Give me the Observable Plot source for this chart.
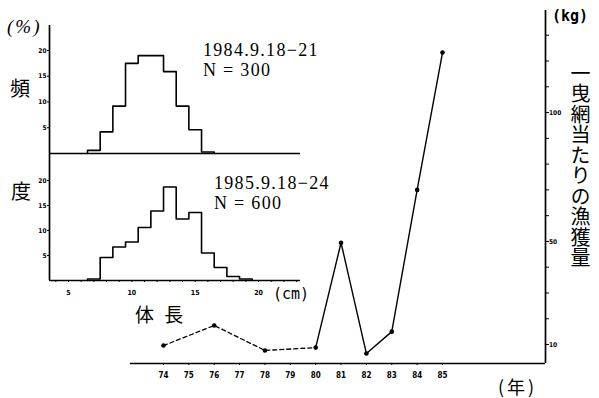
<!DOCTYPE html>
<html><head><meta charset="utf-8">
<script src="https://cdn.jsdelivr.net/npm/d3@7"></script>
<script src="https://cdn.jsdelivr.net/npm/@observablehq/plot@0.6"></script>
<style>
body{margin:0;background:#fff;}
#wrap{position:relative;width:599px;height:398px;overflow:hidden;background:#fff;color:#000;}
#wrap svg{position:absolute;left:0;top:0;}
.lbl{position:absolute;white-space:nowrap;line-height:1;}
.date{font-family:"Liberation Serif",serif;font-size:18px;letter-spacing:1.3px;line-height:20px;}
.jp{font-family:"Noto Sans CJK JP",sans-serif;}
</style></head><body><div id="wrap"></div>
<script>
// ---- main series: catch per haul (kg) by year ----
const years   = [74, 76, 78, 80, 81, 82, 83, 84, 85];
const catchKg = [9.6, 17.4, 7.7, 8.8, 49.5, 6.5, 15.0, 70.0, 123.3];
const yearTicks = [74, 75, 76, 77, 78, 79, 80, 81, 82, 83, 84, 85];
const kgTicks   = [10, 20, 30, 40, 50, 60, 70, 80, 90, 100, 110, 120, 130];
const kgLabels  = [10, 50, 100];

// ---- insets: body-length frequency (%) ----
const bins1984 = [7, 8, 9, 10, 11, 12, 13, 14, 15, 16];
const freq1984 = [0.6, 4.2, 9.2, 17.5, 19.0, 19.0, 15.9, 9.2, 4.6, 0.3];
const bins1985 = [7, 8, 9, 10, 11, 12, 13, 14, 15, 16, 17, 18, 19];
const freq1985 = [0.3, 4.6, 6.7, 7.7, 10.6, 13.9, 18.7, 12.3, 13.6, 5.5, 2.6, 0.8, 0.3];
const pctTicks = [5, 10, 15, 20];
const cmTicks  = [4,5,6,7,8,9,10,11,12,13,14,15,16,17,18,19,20,21,22,23];
const cmLabels = [5, 10, 15, 20];

const wrap = document.getElementById("wrap");
const mainData = years.map((y, i) => ({year: y, kg: catchKg[i]}));
const XD = [72.7, 89.06], YD = [2.64, 139.6];

const mainChart = Plot.plot({
  width: 599, height: 398,
  marginLeft: 130, marginRight: 54, marginTop: 10, marginBottom: 35,
  style: {background: "none", overflow: "visible", fontFamily: "DejaVu Sans Condensed"},
  x: {domain: XD},
  y: {domain: YD},
  marks: [
    Plot.ruleY([YD[0]], {stroke: "#000", strokeWidth: 1.7}),
    Plot.ruleX([XD[1]], {stroke: "#000", strokeWidth: 1.7}),
    Plot.axisX(yearTicks, {tickSize: 2, tickPadding: 7, fontSize: 8, fontWeight: "bold", label: null, tickFormat: d => String(d)}),
    Plot.axisY(kgTicks, {anchor: "right", tickSize: 3, tickPadding: 0.5, fontSize: 6.5, fontWeight: "bold", label: null,
      tickFormat: d => kgLabels.includes(d) ? String(d) : ""}),
    Plot.line(mainData.filter(d => d.year <= 80), {x: "year", y: "kg", stroke: "#000", strokeWidth: 1.3, strokeDasharray: "4,3"}),
    Plot.line(mainData.filter(d => d.year >= 80), {x: "year", y: "kg", stroke: "#000", strokeWidth: 1.4}),
    Plot.dot(mainData, {x: "year", y: "kg", r: 2.3, fill: "#000", stroke: "none"})
  ]
});
wrap.appendChild(mainChart);

function steps(bins, vals) {
  const pts = [{x: bins[0] - 0.5, y: 0}];
  bins.forEach((b, i) => pts.push({x: b - 0.5, y: vals[i]}));
  pts.push({x: bins[bins.length - 1] + 0.5, y: 0});
  return pts;
}
const CD = [3.5, 23.31];

const histTop = Plot.plot({
  width: 310, height: 160,
  marginLeft: 49, marginRight: 10, marginTop: 25, marginBottom: 7,
  style: {background: "none", overflow: "visible", fontFamily: "DejaVu Sans Condensed"},
  x: {domain: CD, axis: null},
  y: {domain: [0, 24.85]},
  marks: [
    Plot.ruleY([0], {stroke: "#000", strokeWidth: 1.6}),
    Plot.ruleX([CD[0]], {stroke: "#000", strokeWidth: 1.7}),
    Plot.axisY(pctTicks, {tickSize: 2, tickPadding: 1, fontSize: 6.5, fontWeight: "bold", label: null}),
    Plot.line(steps(bins1984, freq1984), {x: "x", y: "y", curve: "step-after", stroke: "#000", strokeWidth: 1.6})
  ]
});
wrap.appendChild(histTop);

const histBot = Plot.plot({
  width: 310, height: 300,
  marginLeft: 49, marginRight: 10, marginTop: 153, marginBottom: 20,
  style: {background: "none", overflow: "visible", fontFamily: "DejaVu Sans Condensed"},
  x: {domain: CD},
  y: {domain: [0, 25.4]},
  marks: [
    Plot.ruleY([0], {stroke: "#000", strokeWidth: 1.6}),
    Plot.ruleX([CD[0]], {stroke: "#000", strokeWidth: 1.7}),
    Plot.axisY(pctTicks, {tickSize: 2, tickPadding: 1, fontSize: 6.5, fontWeight: "bold", label: null}),
    Plot.axisX(cmTicks, {tickSize: 2, tickPadding: 8, fontSize: 7, fontWeight: "bold", label: null,
      tickFormat: d => cmLabels.includes(d) ? String(d) : ""}),
    Plot.line(steps(bins1985, freq1985), {x: "x", y: "y", curve: "step-after", stroke: "#000", strokeWidth: 1.6})
  ]
});
wrap.appendChild(histBot);

const labels = [
  {t: "(%)", x: 7, y: 17, cls: "date", css: "font-size:19px;line-height:1;letter-spacing:2px;font-style:italic;"},
  {t: "頻", x: 10, y: 78, cls: "jp", css: "font-size:20px;"},
  {t: "度", x: 11, y: 181, cls: "jp", css: "font-size:20px;"},
  {t: ["1984.9.18−21", "N = 300"], x: 203, y: 40, cls: "date", css: ""},
  {t: ["1985.9.18−24", "N = 600"], x: 214, y: 173, cls: "date", css: ""},
  {t: "(cm)", x: 273, y: 287, cls: "", css: "font-family:'DejaVu Sans Mono';font-size:15px;"},
  {t: "体 長", x: 135, y: 304, cls: "jp", css: "font-size:19px;letter-spacing:3px;"},
  {t: "(kg)", x: 552, y: 9, cls: "", css: "font-family:'DejaVu Sans Mono';font-weight:bold;font-size:15px;"},
  {t: "(年)", x: 498, y: 377, cls: "jp", css: "font-size:18px;letter-spacing:3px;"},
  {t: "一曳網当たりの漁獲量", x: 570, y: 63, cls: "jp", css: "font-size:20px;letter-spacing:0.5px;writing-mode:vertical-rl;"}
];
for (const l of labels) {
  const d = document.createElement("div");
  d.className = "lbl " + l.cls;
  d.style.cssText += `left:${l.x}px;top:${l.y}px;` + l.css;
  if (Array.isArray(l.t)) {
    l.t.forEach((line, i) => {
      if (i) d.appendChild(document.createElement("br"));
      d.appendChild(document.createTextNode(line));
    });
  } else d.textContent = l.t;
  wrap.appendChild(d);
}
</script></body></html>
